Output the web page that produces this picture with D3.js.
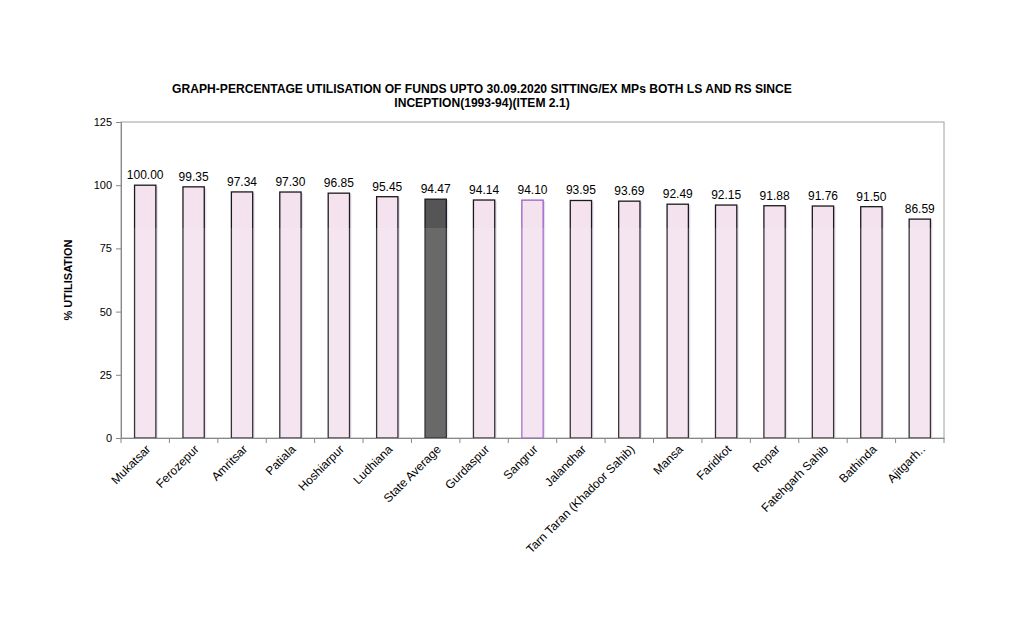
<!DOCTYPE html>
<html><head><meta charset="utf-8">
<script src="https://cdn.jsdelivr.net/npm/d3@7"></script>
<style>body{margin:0;background:#fff}svg{display:block;font-family:"Liberation Sans",Arial,sans-serif}</style>
</head><body>
<svg id="c" width="1020" height="619"></svg>
<script>
const categories = ["Mukatsar","Ferozepur","Amritsar","Patiala","Hoshiarpur","Ludhiana","State Average","Gurdaspur","Sangrur","Jalandhar","Tarn Taran (Khadoor Sahib)","Mansa","Faridkot","Ropar","Fatehgarh Sahib","Bathinda","Ajitgarh.."];
const values = [100.00,99.35,97.34,97.30,96.85,95.45,94.47,94.14,94.10,93.95,93.69,92.49,92.15,91.88,91.76,91.50,86.59];
const yTicks = [0,25,50,75,100,125];
const titleLines = ["GRAPH-PERCENTAGE UTILISATION OF FUNDS UPTO 30.09.2020 SITTING/EX MPs BOTH LS AND RS SINCE","INCEPTION(1993-94)(ITEM 2.1)"];

const svg = d3.select("#c");
const L=121, R=944, T=122, B=438;
const x = d3.scaleBand().domain(categories).range([L,R]).paddingInner(0.56).paddingOuter(0.28);
const y = d3.scaleLinear().domain([0,125]).range([B,T]);

// plot border
svg.append("rect").attr("x",L).attr("y",T).attr("width",R-L).attr("height",B-T)
  .attr("fill","none").attr("stroke","#a0a0a0").attr("stroke-width",1);

// bars with soft shadow
const g = svg.append("g");
categories.forEach((c,i)=>{
  const v=values[i];
  const isAvg = c==="State Average";
  const isSang = c==="Sangrur";
  const bx=x(c), bw=x.bandwidth(), by=y(v), bh=B-y(v);
  g.append("rect").attr("x",bx+2).attr("y",by+1).attr("width",bw).attr("height",bh-1)
    .attr("fill","#d9c6e6").attr("opacity",0.6);
  g.append("rect").attr("x",bx).attr("y",by).attr("width",bw).attr("height",bh)
    .attr("fill",isAvg?"#555555":"#f4e2ee")
    .attr("stroke",isSang?"#9a5cc8":"#1a1a1a").attr("stroke-width",1.3);
  g.append("text").attr("x",bx+bw/2).attr("y",by-6).attr("text-anchor","middle")
    .attr("font-size",12).attr("fill","#000").text(v.toFixed(2));
});

// faint white band line
svg.append("rect").attr("x",L+1).attr("y",228).attr("width",R-L-2).attr("height",B-228)
  .attr("fill","#ffffff").attr("opacity",0.12);

// y axis
const ya = svg.append("g").attr("transform",`translate(${L},0)`)
  .call(d3.axisLeft(y).tickValues(yTicks).tickSize(5).tickPadding(4).tickFormat(d3.format("d")));
ya.selectAll("path,line").attr("stroke","#888");
ya.selectAll("text").attr("font-size",11).attr("fill","#000").attr("font-family","Liberation Sans, Arial, sans-serif");

// x axis
const xa = svg.append("g").attr("transform",`translate(0,${B})`)
  .call(d3.axisBottom(x).tickSize(0).tickSizeOuter(0).tickFormat(""));
xa.select("path").attr("stroke","#888");
const step = x.step();
const bounds = d3.range(categories.length+1).map(i=>L+i*step);
svg.append("g").selectAll("line").data(bounds).join("line")
  .attr("x1",d=>d).attr("x2",d=>d).attr("y1",B).attr("y2",B+5).attr("stroke","#888");
svg.append("g").selectAll("text").data(categories).join("text")
  .attr("transform",d=>`translate(${x(d)+x.bandwidth()/2+6},${B+12}) rotate(-45)`)
  .attr("text-anchor","end").attr("font-size",12).attr("fill","#000").text(d=>d);

// title
svg.append("g").selectAll("text").data(titleLines).join("text")
  .attr("x",482).attr("y",(d,i)=>93+i*14).attr("text-anchor","middle")
  .attr("font-size",12.1).attr("font-weight","bold").attr("fill","#000").text(d=>d);

// y label
svg.append("text").attr("transform",`translate(72,${(T+B)/2}) rotate(-90)`)
  .attr("text-anchor","middle").attr("font-size",11).attr("font-weight","bold").text("% UTILISATION");
</script>
</body></html>
